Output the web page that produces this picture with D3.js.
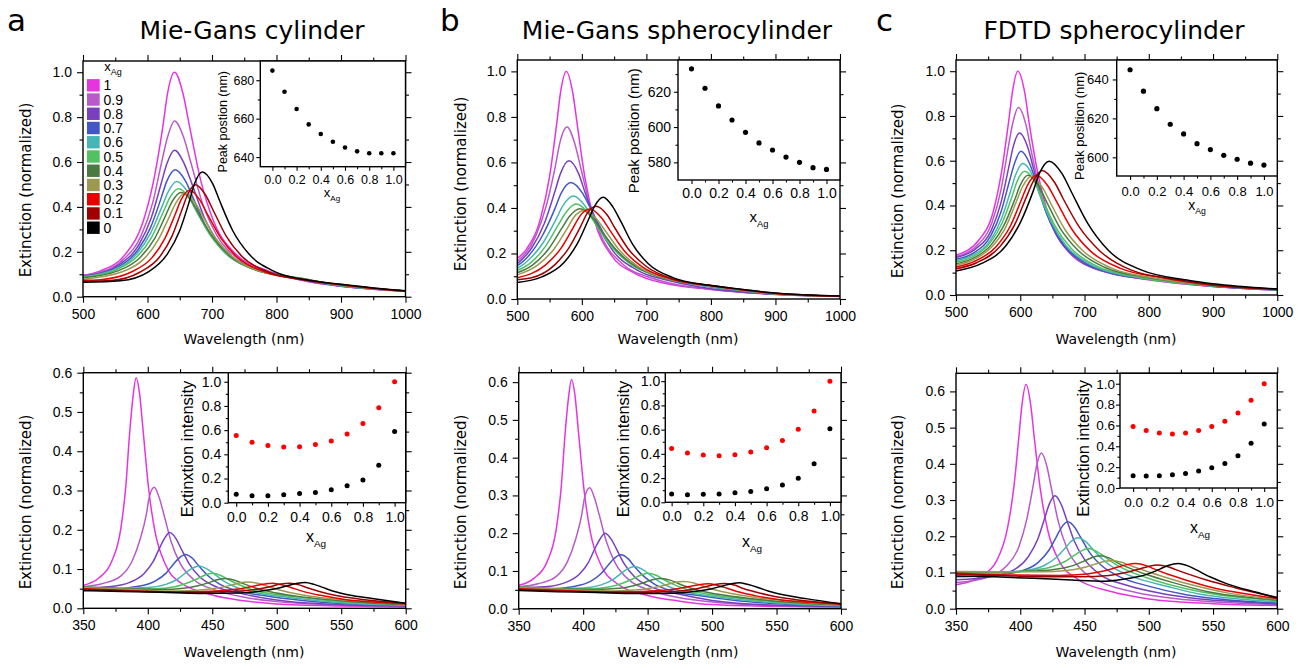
<!DOCTYPE html>
<html><head><meta charset="utf-8">
<script src="https://cdn.jsdelivr.net/npm/d3@7"></script>
<style>body{margin:0;background:#fff}svg{display:block}</style>
</head><body>
<svg id="chart" width="1310" height="669"></svg>
<script>
// ---------------- DATA ----------------
const xAgLabels = ["1","0.9","0.8","0.7","0.6","0.5","0.4","0.3","0.2","0.1","0"];
const seriesColors = ["#e834e0","#b85bc8","#7840be","#4256c6","#44b7b4","#50c262","#4a7a40","#9c9a50","#e80000","#a00000","#000000"];

// Top row: longitudinal band, order x_Ag = 1 ... 0, points [wavelength nm, extinction]
const specTopA = [
 [[500,0.095],[526,0.114],[566,0.190],[593,0.333],[610,0.524],[624,0.762],[631,0.905],[642,1.0],[655,0.905],[665,0.762],[682,0.524],[703,0.333],[737,0.190],[788,0.114],[850,0.066],[900,0.046],[950,0.033],[1000,0.024]],
 [[500,0.094],[518,0.103],[561,0.162],[590,0.271],[608,0.418],[622,0.600],[631,0.710],[642,0.783],[656,0.710],[667,0.600],[685,0.418],[708,0.271],[744,0.162],[799,0.103],[850,0.068],[900,0.047],[950,0.034],[1000,0.025]],
 [[500,0.092],[511,0.095],[556,0.143],[587,0.233],[606,0.353],[621,0.502],[630,0.592],[642,0.652],[657,0.592],[669,0.502],[688,0.353],[712,0.233],[751,0.143],[809,0.095],[850,0.070],[900,0.048],[950,0.034],[1000,0.025]],
 [[500,0.091],[553,0.131],[585,0.208],[605,0.310],[621,0.438],[630,0.515],[643,0.566],[659,0.515],[671,0.438],[691,0.310],[716,0.208],[757,0.131],[818,0.090],[850,0.071],[900,0.048],[950,0.035],[1000,0.025]],
 [[500,0.089],[550,0.123],[584,0.192],[605,0.284],[622,0.398],[632,0.467],[645,0.513],[662,0.467],[674,0.398],[695,0.284],[722,0.192],[764,0.123],[827,0.086],[900,0.049],[950,0.035],[1000,0.025]],
 [[500,0.087],[550,0.118],[585,0.182],[607,0.268],[624,0.374],[634,0.438],[648,0.481],[665,0.438],[677,0.374],[699,0.268],[726,0.182],[769,0.118],[834,0.084],[900,0.050],[950,0.035],[1000,0.025]],
 [[500,0.084],[554,0.115],[589,0.176],[611,0.259],[628,0.361],[638,0.423],[652,0.464],[669,0.423],[681,0.361],[703,0.259],[730,0.176],[773,0.115],[838,0.082],[900,0.051],[950,0.036],[1000,0.025]],
 [[500,0.078],[562,0.112],[596,0.173],[617,0.255],[634,0.357],[644,0.418],[657,0.459],[674,0.418],[686,0.357],[707,0.255],[734,0.173],[776,0.112],[839,0.080],[900,0.052],[950,0.036],[1000,0.025]],
 [[500,0.073],[527,0.076],[575,0.110],[607,0.174],[627,0.260],[643,0.367],[652,0.431],[665,0.474],[681,0.431],[693,0.367],[714,0.260],[740,0.174],[782,0.110],[843,0.076],[900,0.053],[950,0.037],[1000,0.025]],
 [[500,0.068],[543,0.072],[588,0.109],[619,0.178],[638,0.270],[653,0.384],[662,0.453],[674,0.499],[690,0.453],[702,0.384],[722,0.270],[747,0.178],[788,0.109],[849,0.072],[900,0.054],[950,0.038],[1000,0.025]],
 [[500,0.064],[558,0.071],[602,0.112],[631,0.191],[650,0.295],[665,0.426],[673,0.504],[685,0.556],[701,0.504],[712,0.426],[732,0.295],[757,0.191],[797,0.112],[856,0.071],[900,0.055],[950,0.039],[1000,0.026]]
];
const specTopB = [
 [[500,0.178],[514,0.218],[536,0.354],[550,0.538],[561,0.769],[567,0.908],[576,1.0],[586,0.905],[593,0.764],[605,0.529],[620,0.340],[645,0.195],[682,0.113],[730,0.068],[800,0.042],[900,0.020],[1000,0.011]],
 [[500,0.165],[528,0.273],[545,0.411],[559,0.584],[566,0.687],[577,0.756],[589,0.683],[598,0.580],[613,0.407],[632,0.264],[663,0.154],[708,0.092],[750,0.062],[800,0.043],[900,0.021],[1000,0.012]],
 [[500,0.155],[522,0.223],[542,0.333],[558,0.470],[567,0.552],[580,0.607],[595,0.551],[605,0.468],[624,0.330],[647,0.216],[685,0.128],[740,0.078],[800,0.045],[900,0.021],[1000,0.012]],
 [[500,0.146],[516,0.185],[539,0.279],[558,0.395],[568,0.465],[583,0.512],[601,0.465],[614,0.395],[636,0.278],[664,0.183],[709,0.110],[776,0.064],[850,0.035],[900,0.022],[1000,0.012]],
 [[500,0.135],[515,0.165],[540,0.247],[560,0.350],[571,0.411],[587,0.452],[605,0.409],[619,0.348],[642,0.245],[671,0.163],[718,0.100],[787,0.060],[850,0.036],[900,0.022],[1000,0.012]],
 [[500,0.125],[518,0.153],[543,0.229],[563,0.323],[575,0.379],[591,0.417],[610,0.377],[623,0.321],[647,0.227],[677,0.151],[724,0.095],[795,0.058],[850,0.037],[900,0.022],[1000,0.012]],
 [[500,0.115],[524,0.150],[549,0.222],[569,0.311],[581,0.364],[597,0.397],[616,0.359],[629,0.305],[653,0.216],[683,0.144],[730,0.090],[801,0.057],[850,0.038],[900,0.023],[1000,0.012]],
 [[500,0.106],[532,0.150],[557,0.220],[577,0.308],[588,0.360],[604,0.390],[622,0.354],[636,0.301],[659,0.212],[688,0.141],[735,0.088],[804,0.057],[850,0.039],[900,0.023],[1000,0.012]],
 [[500,0.093],[543,0.148],[567,0.220],[586,0.310],[597,0.364],[612,0.395],[630,0.358],[643,0.304],[665,0.214],[693,0.142],[738,0.088],[805,0.057],[850,0.040],[900,0.024],[1000,0.012]],
 [[500,0.085],[522,0.093],[558,0.150],[580,0.225],[598,0.318],[608,0.375],[622,0.408],[639,0.370],[651,0.313],[672,0.220],[699,0.145],[741,0.088],[804,0.058],[850,0.041],[900,0.025],[1000,0.013]],
 [[500,0.073],[538,0.097],[572,0.159],[593,0.243],[610,0.347],[620,0.409],[633,0.447],[648,0.405],[660,0.343],[679,0.239],[703,0.155],[742,0.093],[800,0.059],[850,0.042],[900,0.026],[1000,0.013]]
];
const specTopC = [
 [[500,0.178],[536,0.247],[558,0.373],[571,0.552],[582,0.777],[588,0.911],[596,1.0],[607,0.904],[614,0.766],[628,0.535],[645,0.348],[672,0.205],[712,0.124],[750,0.092],[800,0.068],[900,0.038],[1000,0.022]],
 [[500,0.172],[533,0.222],[556,0.324],[570,0.470],[581,0.654],[588,0.764],[597,0.838],[609,0.759],[617,0.645],[632,0.454],[651,0.299],[680,0.180],[724,0.110],[800,0.069],[900,0.038],[1000,0.022]],
 [[500,0.167],[530,0.205],[555,0.290],[570,0.413],[582,0.569],[589,0.662],[599,0.724],[612,0.657],[621,0.560],[637,0.397],[657,0.264],[689,0.161],[737,0.100],[800,0.071],[900,0.039],[1000,0.022]],
 [[500,0.160],[527,0.187],[554,0.264],[570,0.371],[583,0.507],[591,0.588],[601,0.642],[615,0.584],[625,0.499],[642,0.356],[664,0.239],[699,0.147],[750,0.093],[800,0.073],[900,0.040],[1000,0.023]],
 [[500,0.153],[525,0.177],[554,0.246],[571,0.343],[585,0.465],[593,0.538],[604,0.587],[619,0.534],[629,0.457],[648,0.328],[671,0.221],[709,0.137],[764,0.087],[800,0.074],[900,0.041],[1000,0.023]],
 [[500,0.147],[524,0.168],[553,0.233],[572,0.323],[587,0.438],[595,0.507],[607,0.553],[623,0.503],[634,0.431],[654,0.309],[679,0.209],[719,0.129],[778,0.083],[900,0.041],[1000,0.024]],
 [[500,0.140],[524,0.160],[555,0.225],[575,0.313],[591,0.423],[600,0.491],[612,0.535],[629,0.487],[641,0.416],[662,0.299],[689,0.202],[731,0.124],[794,0.080],[900,0.042],[1000,0.024]],
 [[500,0.133],[524,0.154],[557,0.219],[578,0.307],[594,0.418],[604,0.486],[617,0.530],[634,0.483],[647,0.412],[669,0.295],[697,0.199],[741,0.121],[806,0.077],[900,0.043],[1000,0.025]],
 [[500,0.125],[527,0.148],[562,0.215],[584,0.305],[601,0.420],[611,0.489],[625,0.535],[643,0.487],[657,0.415],[680,0.295],[709,0.197],[756,0.119],[825,0.075],[900,0.044],[1000,0.026]],
 [[500,0.117],[532,0.144],[568,0.215],[591,0.312],[609,0.434],[620,0.507],[634,0.556],[653,0.505],[667,0.429],[692,0.303],[723,0.199],[772,0.112],[845,0.068],[900,0.045],[1000,0.026]],
 [[500,0.107],[540,0.141],[578,0.221],[601,0.329],[620,0.463],[630,0.544],[645,0.598],[665,0.542],[680,0.458],[705,0.320],[737,0.200],[788,0.112],[863,0.065],[900,0.050],[1000,0.027]]
];
// Bottom row: transverse band
const specBotA = [
 [[350,0.058],[362,0.077],[372,0.119],[379,0.201],[383,0.312],[386,0.449],[388.5,0.537],[391,0.587],[393.5,0.55],[396.5,0.448],[400.5,0.309],[405.5,0.197],[413.6,0.112],[425.6,0.065],[450,0.034],[475,0.019],[500,0.011],[550,0.006],[600,0.004]],
 [[350,0.055],[365,0.063],[379,0.082],[388,0.121],[394,0.175],[399,0.241],[401,0.281],[405,0.308],[409,0.280],[412.5,0.239],[418,0.171],[425,0.115],[436,0.072],[452,0.047],[475,0.028],[500,0.017],[550,0.008],[600,0.005]],
 [[350,0.052],[370,0.055],[386,0.066],[397,0.088],[404,0.118],[409.5,0.156],[413,0.178],[417,0.193],[422,0.177],[425.7,0.153],[432,0.114],[440,0.081],[453,0.055],[472,0.038],[500,0.021],[550,0.009],[600,0.006]],
 [[350,0.052],[374,0.050],[393,0.056],[406,0.070],[414,0.089],[420,0.113],[424,0.127],[429,0.137],[435,0.126],[439,0.110],[446,0.085],[455,0.063],[469,0.045],[491,0.032],[520,0.020],[550,0.012],[600,0.007]],
 [[350,0.054],[378,0.051],[400,0.053],[414,0.061],[423,0.074],[430,0.092],[434,0.101],[440,0.108],[446,0.100],[451,0.089],[459,0.069],[469,0.053],[485,0.039],[509,0.028],[530,0.020],[560,0.012],[600,0.008]],
 [[350,0.054],[380,0.050],[405,0.050],[421,0.055],[431,0.065],[439,0.076],[444,0.084],[450,0.089],[457,0.083],[462,0.074],[471,0.060],[482,0.046],[500,0.035],[526,0.025],[550,0.017],[600,0.009]],
 [[350,0.054],[380,0.050],[410,0.048],[428,0.051],[439,0.0575],[448,0.066],[453,0.072],[460,0.076],[468,0.071],[473,0.064],[483,0.0525],[495,0.042],[515,0.031],[544,0.021],[570,0.014],[600,0.010]],
 [[350,0.053],[380,0.049],[405,0.045],[423,0.044],[443,0.047],[455,0.0525],[465,0.059],[470,0.064],[478,0.067],[486,0.063],[492,0.057],[502,0.0465],[515,0.037],[535,0.027],[565,0.018],[600,0.011]],
 [[350,0.050],[380,0.046],[410,0.042],[440,0.042],[460,0.0457],[473,0.0505],[483,0.057],[489,0.061],[497,0.064],[505,0.059],[511,0.053],[521,0.0425],[534,0.033],[554,0.022],[584,0.014],[600,0.011]],
 [[350,0.048],[380,0.045],[410,0.042],[440,0.040],[455,0.042],[475,0.045],[487,0.050],[497,0.057],[502,0.061],[510,0.064],[518,0.059],[523,0.053],[533,0.043],[545,0.033],[565,0.023],[600,0.013]],
 [[350,0.045],[380,0.043],[410,0.041],[440,0.038],[470,0.039],[488,0.044],[500,0.0505],[509,0.058],[515,0.063],[522,0.066],[529,0.061],[535,0.054],[544,0.0435],[556,0.034],[574,0.025],[600,0.013]]
];
const specBotB = [
 [[350,0.062],[362,0.081],[372,0.124],[379,0.208],[383,0.323],[386,0.464],[388.5,0.555],[391,0.607],[393.5,0.569],[396.5,0.463],[400.5,0.320],[405.5,0.204],[413.6,0.117],[425.6,0.068],[450,0.035],[475,0.020],[500,0.011],[550,0.006],[600,0.004]],
 [[350,0.058],[365,0.066],[379,0.085],[388,0.126],[394,0.182],[399,0.251],[401,0.292],[405,0.320],[409,0.291],[412.5,0.248],[418,0.178],[425,0.120],[436,0.075],[452,0.049],[475,0.029],[500,0.018],[550,0.008],[600,0.005]],
 [[350,0.056],[370,0.058],[386,0.069],[397,0.091],[404,0.122],[409.5,0.162],[413,0.184],[417,0.200],[422,0.183],[425.7,0.159],[432,0.118],[440,0.084],[453,0.057],[472,0.040],[500,0.022],[550,0.009],[600,0.006]],
 [[350,0.056],[374,0.053],[393,0.059],[406,0.073],[414,0.093],[420,0.118],[424,0.133],[429,0.143],[435,0.132],[439,0.115],[446,0.089],[455,0.066],[469,0.047],[491,0.034],[520,0.021],[550,0.013],[600,0.007]],
 [[350,0.057],[378,0.053],[400,0.055],[414,0.063],[423,0.077],[430,0.095],[434,0.105],[440,0.112],[446,0.104],[451,0.092],[459,0.072],[469,0.055],[485,0.041],[509,0.029],[530,0.021],[560,0.013],[600,0.008]],
 [[350,0.058],[380,0.053],[405,0.053],[421,0.058],[431,0.068],[439,0.080],[444,0.088],[450,0.094],[457,0.088],[462,0.078],[471,0.063],[482,0.049],[500,0.037],[526,0.026],[550,0.018],[600,0.009]],
 [[350,0.057],[380,0.053],[410,0.051],[428,0.054],[439,0.061],[448,0.070],[453,0.076],[460,0.080],[468,0.075],[473,0.068],[483,0.055],[495,0.044],[515,0.033],[544,0.022],[570,0.015],[600,0.010]],
 [[350,0.056],[380,0.052],[405,0.048],[423,0.047],[443,0.050],[455,0.056],[465,0.064],[470,0.069],[478,0.072],[486,0.068],[492,0.061],[502,0.050],[515,0.040],[535,0.029],[565,0.019],[600,0.011]],
 [[350,0.053],[380,0.049],[410,0.045],[440,0.045],[460,0.048],[473,0.053],[483,0.059],[489,0.063],[497,0.066],[505,0.061],[511,0.055],[521,0.044],[534,0.034],[554,0.023],[584,0.015],[600,0.012]],
 [[350,0.051],[380,0.047],[410,0.044],[440,0.042],[455,0.044],[475,0.047],[487,0.052],[497,0.060],[502,0.064],[510,0.067],[518,0.062],[523,0.055],[533,0.045],[545,0.035],[565,0.024],[600,0.013]],
 [[350,0.048],[380,0.045],[410,0.043],[440,0.040],[470,0.041],[488,0.046],[500,0.053],[509,0.061],[515,0.066],[521,0.069],[528,0.064],[535,0.057],[544,0.046],[556,0.036],[574,0.026],[600,0.013]]
];
const specBotC = [
 [[350,0.066],[369.5,0.090],[382,0.135],[390,0.221],[395,0.335],[399,0.477],[401.3,0.562],[404.5,0.619],[408.2,0.561],[410.8,0.476],[415.5,0.333],[421.3,0.218],[430.5,0.130],[444.5,0.082],[470,0.048],[500,0.027],[550,0.014],[600,0.009]],
 [[350,0.072],[374.5,0.087],[389,0.117],[399,0.172],[405,0.246],[410,0.339],[412.7,0.394],[416.5,0.430],[420.8,0.392],[424,0.336],[429.5,0.242],[436.4,0.166],[447.5,0.108],[463.8,0.072],[490,0.045],[520,0.028],[560,0.017],[600,0.011]],
 [[350,0.080],[378,0.089],[395,0.107],[406.3,0.144],[413.5,0.191],[419.2,0.252],[422.5,0.288],[427,0.312],[432,0.287],[435.7,0.250],[442,0.187],[450,0.136],[462.7,0.093],[481.6,0.066],[510,0.042],[540,0.027],[570,0.019],[600,0.013]],
 [[350,0.088],[382,0.093],[401,0.104],[414,0.128],[422,0.160],[428.3,0.200],[432,0.224],[437,0.240],[442.7,0.223],[446.8,0.198],[454,0.155],[463,0.120],[477.5,0.088],[499,0.063],[530,0.038],[560,0.025],[600,0.016]],
 [[350,0.096],[383,0.098],[404.5,0.105],[419,0.120],[428,0.1415],[435.2,0.168],[439.3,0.185],[445,0.196],[451.3,0.184],[456,0.166],[464,0.1365],[474,0.110],[490,0.085],[514,0.062],[540,0.040],[570,0.027],[600,0.019]],
 [[350,0.100],[384,0.101],[408,0.1055],[424,0.115],[434,0.129],[442,0.147],[446.7,0.158],[453,0.166],[460,0.157],[465,0.145],[474,0.123],[485,0.103],[503,0.080],[529,0.055],[555,0.038],[580,0.028],[600,0.022]],
 [[350,0.102],[380,0.102],[412,0.104],[430,0.110],[441,0.119],[450,0.132],[455,0.140],[462,0.146],[470,0.139],[475,0.128],[485,0.112],[497,0.096],[517,0.074],[546,0.047],[575,0.032],[600,0.024]],
 [[350,0.103],[385,0.102],[416,0.102],[436,0.1055],[448,0.1125],[458,0.123],[463,0.1285],[471,0.133],[479,0.128],[485,0.120],[496,0.106],[509,0.091],[531,0.068],[562,0.043],[600,0.026]],
 [[350,0.098],[390,0.093],[430,0.092],[452,0.096],[465,0.104],[476,0.115],[482,0.121],[490,0.125],[498,0.119],[504,0.110],[515,0.095],[528,0.080],[550,0.058],[581,0.038],[600,0.028]],
 [[350,0.096],[390,0.091],[420,0.088],[447,0.088],[469,0.092],[482,0.100],[493,0.110],[499,0.116],[507,0.121],[515,0.116],[521,0.108],[532,0.094],[545,0.079],[567,0.058],[600,0.031]],
 [[350,0.090],[380,0.088],[410,0.084],[440,0.079],[466,0.076],[486,0.0845],[499,0.0955],[509,0.110],[515,0.1195],[523,0.125],[531,0.1175],[537,0.107],[548,0.0875],[561,0.0685],[583,0.046],[600,0.030]]
];

// Insets (x_Ag = 0 ... 1)
const xAgValues = [0,0.1,0.2,0.3,0.4,0.5,0.6,0.7,0.8,0.9,1.0];
const peakTopA = [685,674,665,657,652,648,645,643,642,642,642];
const peakTopB = [633,622,612,604,597,591,587,583,580,577,576];
const peakTopC = [645,634,625,617,612,607,604,601,599,597,596];
const intRedA   = [0.556,0.500,0.473,0.461,0.463,0.481,0.511,0.569,0.655,0.785,1.0];
const intBlackA = [0.069,0.058,0.058,0.066,0.077,0.085,0.108,0.141,0.187,0.309,0.589];
const intRedB   = [0.445,0.406,0.390,0.384,0.392,0.415,0.450,0.511,0.604,0.753,1.0];
const intBlackB = [0.068,0.063,0.066,0.068,0.079,0.090,0.112,0.143,0.198,0.318,0.607];
const intRedC   = [0.589,0.551,0.528,0.519,0.528,0.551,0.589,0.640,0.719,0.841,1.0];
const intBlackC = [0.118,0.115,0.118,0.127,0.140,0.162,0.194,0.236,0.309,0.430,0.614];

// Tick values
const topXTicks = [500,600,700,800,900,1000], topXMinor = [550,650,750,850,950];
const botXTicks = [350,400,450,500,550,600], botXMinor = [375,425,475,525,575];
const topYTicks = [0,0.2,0.4,0.6,0.8,1.0], topYMinor = [0.1,0.3,0.5,0.7,0.9];
const botYTicks = [0,0.1,0.2,0.3,0.4,0.5,0.6], botYMinor = [0.05,0.15,0.25,0.35,0.45,0.55];
const insetXTicks = [0,0.2,0.4,0.6,0.8,1.0], insetXMinor = [0.1,0.3,0.5,0.7,0.9];
const peakYTicksA = [640,660,680], peakYMinorA = [650,670];
const peakYTicksB = [580,600,620], peakYMinorB = [590,610,630];
const peakYTicksC = [600,620,640], peakYMinorC = [610,630];
const intYTicks = [0,0.2,0.4,0.6,0.8,1.0], intYMinor = [0.1,0.3,0.5,0.7,0.9];

const titles = ["Mie-Gans cylinder","Mie-Gans spherocylinder","FDTD spherocylinder"];
const letters = ["a","b","c"];

// ---------------- DRAW ----------------
const svg = d3.select("#chart");
const NUM = "'Liberation Sans', Arial, sans-serif";
const TXT = "'DejaVu Sans', Verdana, sans-serif";
const f1 = d3.format(".1f"), f0 = d3.format("d");

function axes(g, x, y, o) {
  const [X0, X1] = x.range(); const [Y1, Y0] = y.range();
  function put(axisFn, scale, vals, size, fmt, pad, tr) {
    const a = axisFn(scale).tickValues(vals).tickSizeInner(size).tickSizeOuter(0).tickPadding(pad).tickFormat(fmt);
    const gg = g.append("g").attr("transform", tr).call(a);
    gg.select(".domain").remove();
    gg.selectAll("line").attr("stroke", "#000").attr("stroke-width", 1.1);
    gg.selectAll("text").attr("font-family", NUM).attr("font-size", o.fs).attr("fill", "#000");
    gg.attr("font-size", null).attr("font-family", null);
    return gg;
  }
  const none = () => "";
  put(d3.axisBottom, x, o.xTicks, o.maj, o.xFmt, o.xPad, `translate(0,${Y1})`);
  put(d3.axisBottom, x, o.xMinor, o.min, none, 0, `translate(0,${Y1})`);
  put(d3.axisLeft, y, o.yTicks, o.maj, o.yFmt, o.yPad, `translate(${X0},0)`);
  put(d3.axisLeft, y, o.yMinor, o.min, none, 0, `translate(${X0},0)`);
  if (o.mirror) {
    put(d3.axisTop, x, o.xTicks, o.maj, none, 0, `translate(0,${Y0})`);
    put(d3.axisTop, x, o.xMinor, o.min, none, 0, `translate(0,${Y0})`);
    put(d3.axisRight, y, o.yTicks, o.maj, none, 0, `translate(${X1},0)`);
    put(d3.axisRight, y, o.yMinor, o.min, none, 0, `translate(${X1},0)`);
  }
  g.append("rect").attr("x", X0).attr("y", Y0).attr("width", X1 - X0).attr("height", Y1 - Y0)
    .attr("fill", "none").attr("stroke", "#000").attr("stroke-width", 1.4);
}

function subLabel(g, cx, baseline, fs, sfs) {
  const t = g.append("text").attr("x", cx).attr("y", baseline).attr("text-anchor", "middle")
    .attr("font-family", NUM).attr("font-size", fs).attr("fill", "#000");
  t.append("tspan").text("x");
  t.append("tspan").attr("dy", fs * 0.32).attr("font-size", sfs).text("Ag");
}

const mainPanels = [
  {data: specTopA, x0:83, x1:405.5, y0:61, y1:296.7, xd:[500,1000], yd:[0,1.05], xT:topXTicks, xM:topXMinor, yT:topYTicks, yM:topYMinor, ylx:25.5, yly:190, xlx:244, xly:344},
  {data: specTopB, x0:517.3, x1:840, y0:60, y1:299, xd:[500,1000], yd:[0,1.05], xT:topXTicks, xM:topXMinor, yT:topYTicks, yM:topYMinor, ylx:461, yly:184, xlx:678, xly:344},
  {data: specTopC, x0:956, x1:1277.3, y0:60, y1:295, xd:[500,1000], yd:[0,1.05], xT:topXTicks, xM:topXMinor, yT:topYTicks, yM:topYMinor, ylx:897.5, yly:191, xlx:1116, xly:344},
  {data: specBotA, x0:83.3, x1:405.7, y0:372.7, y1:608.3, xd:[350,600], yd:[0,0.6], xT:botXTicks, xM:botXMinor, yT:botYTicks, yM:botYMinor, ylx:25.5, yly:502, xlx:244, xly:657},
  {data: specBotB, x0:518.7, x1:841, y0:372.7, y1:608.7, xd:[350,600], yd:[0,0.625], xT:botXTicks, xM:botXMinor, yT:botYTicks, yM:botYMinor, ylx:461, yly:502, xlx:678, xly:657},
  {data: specBotC, x0:956, x1:1277.3, y0:373.3, y1:608.7, xd:[350,600], yd:[0,0.65], xT:botXTicks, xM:botXMinor.concat([]), yT:botYTicks, yM:botYMinor, ylx:897.5, yly:502, xlx:1116, xly:657}
];

mainPanels.forEach((p, i) => {
  const g = svg.append("g");
  const x = d3.scaleLinear().domain(p.xd).range([p.x0, p.x1]);
  const y = d3.scaleLinear().domain(p.yd).range([p.y1, p.y0]);
  const cid = "clip" + i;
  svg.append("defs").append("clipPath").attr("id", cid).append("rect")
    .attr("x", p.x0).attr("y", p.y0).attr("width", p.x1 - p.x0).attr("height", p.y1 - p.y0);
  const line = d3.line().x(d => x(d[0])).y(d => y(d[1])).curve(d3.curveMonotoneX);
  const lg = g.append("g").attr("clip-path", `url(#${cid})`);
  p.data.forEach((s, k) => {
    lg.append("path").attr("d", line(s)).attr("fill", "none")
      .attr("stroke", seriesColors[k]).attr("stroke-width", 1.5);
  });
  axes(g, x, y, {xTicks:p.xT, xMinor:p.xM, yTicks:p.yT, yMinor:p.yM, xFmt:f0, yFmt:f1,
    maj:6, min:3.5, xPad:6, yPad:5, fs:14, mirror:true});
  g.append("text").attr("transform", `translate(${p.ylx},${p.yly}) rotate(-90)`)
    .attr("text-anchor", "middle").attr("dominant-baseline", "central")
    .attr("font-family", TXT).attr("font-size", 15).text("Extinction (normalized)");
  g.append("text").attr("x", p.xlx).attr("y", p.xly).attr("text-anchor", "middle")
    .attr("font-family", TXT).attr("font-size", 14).text("Wavelength (nm)");
});

// titles + letters
[[252,39],[677,39],[1114,39]].forEach((c, i) => {
  svg.append("text").attr("x", c[0]).attr("y", c[1]).attr("text-anchor", "middle")
    .attr("font-family", TXT).attr("font-size", 25).text(titles[i]);
});
[[7,31],[440,31],[876,31]].forEach((c, i) => {
  svg.append("text").attr("x", c[0]).attr("y", c[1])
    .attr("font-family", TXT).attr("font-size", 31).text(letters[i]);
});

// legend (panel a top)
const lgd = svg.append("g");
subLabel(lgd, 113, 71, 13, 9);
xAgLabels.forEach((l, k) => {
  const cy = 85.3 + k * 14.24;
  lgd.append("rect").attr("x", 87).attr("y", cy - 6.2).attr("width", 12.7).attr("height", 12.4).attr("fill", seriesColors[k]);
  lgd.append("text").attr("x", 103.5).attr("y", cy).attr("dominant-baseline", "central")
    .attr("font-family", NUM).attr("font-size", 14).text(l);
});

// insets
const insets = [
  {x0:260.3, x1:405.5, y0:61, y1:166.7, yd:[635,690], xd:[-0.1,1.1], yT:peakYTicksA, yM:peakYMinorA, yFmt:f0,
   ser:[[peakTopA,"#000"]], r:2.3, fs:12.5, yPad:2, xPad:4, ylab:"Peak postion (nm)", ylfs:12.5, ylx:223.3, yly:121.7, xlx:332, xly:197, xlfs:13},
  {x0:678, x1:840, y0:60, y1:180, yd:[570,638], xd:[-0.1,1.1], yT:peakYTicksB, yM:peakYMinorB, yFmt:f0,
   ser:[[peakTopB,"#000"]], r:2.6, fs:14, yPad:3, xPad:4.5, ylab:"Peak position (nm)", ylfs:15, ylx:633.5, yly:130.8, xlx:759, xly:222, xlfs:15},
  {x0:1116.7, x1:1277.3, y0:60, y1:176, yd:[590.4,650], xd:[-0.1,1.1], yT:peakYTicksC, yM:peakYMinorC, yFmt:f0,
   ser:[[peakTopC,"#000"]], r:2.6, fs:13, yPad:4, xPad:6.5, ylab:"Peak position (nm)", ylfs:13, ylx:1079, yly:125.8, xlx:1197, xly:210, xlfs:14},
  {x0:228.3, x1:405.7, y0:372.7, y1:502.7, yd:[0,1.075], xd:[-0.05,1.07], yT:intYTicks, yM:intYMinor, yFmt:f1,
   ser:[[intRedA,"#ff0000"],[intBlackA,"#000"]], r:2.5, fs:14, yPad:3, xPad:5, ylab:"Extinxtion intensity", ylfs:16.5, ylx:187, yly:449, xlx:316, xly:542, xlfs:16},
  {x0:665.3, x1:841, y0:372.7, y1:502.3, yd:[0,1.07], xd:[-0.04,1.07], yT:intYTicks, yM:intYMinor, yFmt:f1,
   ser:[[intRedB,"#ff0000"],[intBlackB,"#000"]], r:2.5, fs:14, yPad:1, xPad:5, ylab:"Extinxtion intensity", ylfs:16.5, ylx:623, yly:449, xlx:752, xly:547, xlfs:16},
  {x0:1120, x1:1277.3, y0:373.3, y1:488, yd:[0,1.1], xd:[-0.1,1.1], yT:intYTicks, yM:intYMinor, yFmt:f1,
   ser:[[intRedC,"#ff0000"],[intBlackC,"#000"]], r:2.5, fs:13.5, yPad:1, xPad:5, ylab:"Extinction intensity", ylfs:16.5, ylx:1083.3, yly:448.3, xlx:1200, xly:533, xlfs:16}
];

insets.forEach(p => {
  const g = svg.append("g");
  g.append("rect").attr("x", p.x0).attr("y", p.y0).attr("width", p.x1 - p.x0).attr("height", p.y1 - p.y0).attr("fill", "#fff");
  const x = d3.scaleLinear().domain(p.xd).range([p.x0, p.x1]);
  const y = d3.scaleLinear().domain(p.yd).range([p.y1, p.y0]);
  p.ser.forEach(([vals, col]) => {
    g.selectAll(null).data(vals).enter().append("circle")
      .attr("cx", (d, i) => x(xAgValues[i])).attr("cy", d => y(d)).attr("r", p.r).attr("fill", col);
  });
  axes(g, x, y, {xTicks:insetXTicks, xMinor:insetXMinor, yTicks:p.yT, yMinor:p.yM, xFmt:f1, yFmt:p.yFmt,
    maj:4, min:2.5, xPad:p.xPad, yPad:p.yPad, fs:p.fs, mirror:false});
  g.append("text").attr("transform", `translate(${p.ylx},${p.yly}) rotate(-90)`)
    .attr("text-anchor", "middle").attr("dominant-baseline", "central")
    .attr("font-family", NUM).attr("font-size", p.ylfs).text(p.ylab);
  subLabel(g, p.xlx, p.xly, p.xlfs, p.xlfs * 0.62);
});
</script>
</body></html>
